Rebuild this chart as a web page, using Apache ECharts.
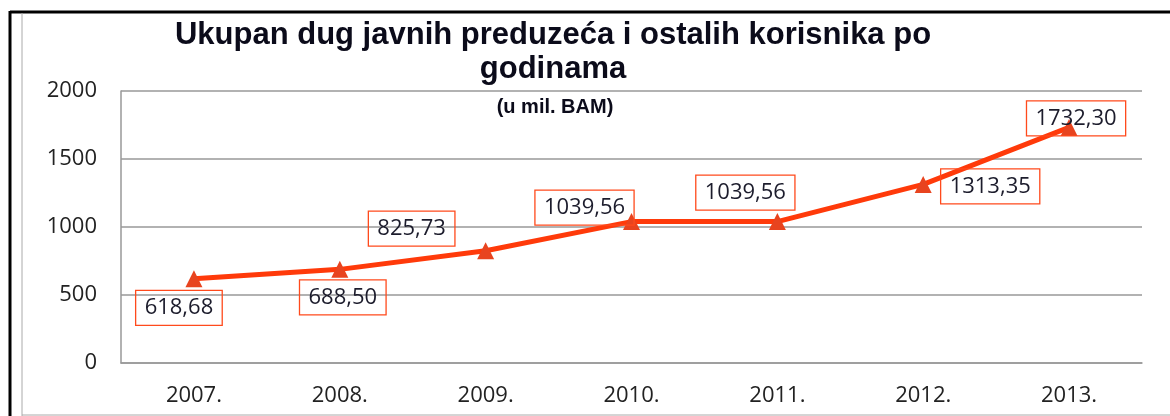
<!DOCTYPE html>
<html>
<head>
<meta charset="utf-8">
<script src="https://cdn.jsdelivr.net/npm/echarts@6/dist/echarts.min.js"></script>
<style>
  html, body { margin: 0; padding: 0; background: #fff; }
  #chart { width: 1170px; height: 416px; }
</style>
</head>
<body>
<div id="chart"></div>
<script>
// podaci sa grafika
var godine = ['2007.', '2008.', '2009.', '2010.', '2011.', '2012.', '2013.']
var dug = [618.68, 688.50, 825.73, 1039.56, 1039.56, 1313.35, 1732.30]
var yTicks = [0, 500, 1000, 1500, 2000]
// pomak natpisa od tacke [dx, dy]
var labelOffsets = [[-15, 29], [3, 28], [-74, -22], [-47, -14], [-32, -29], [67, 2], [7, -9]]

var myChart = echarts.init(document.getElementById('chart'))

var seriesData = dug.map(function (v, i) {
  return {
    value: v,
    label: { offset: labelOffsets[i] }
  }
})

var option = {
  animation: false,
  backgroundColor: '#fff',
  title: [
    {
      text: 'Ukupan dug javnih preduzeća i ostalih korisnika po\ngodinama',
      left: 548,
      top: 13,
      textAlign: 'center',
      textStyle: {
        fontFamily: 'Liberation Sans',
        fontSize: 31,
        fontWeight: 'bold',
        color: '#0b0b1a',
        lineHeight: 34
      }
    },
    {
      text: '(u mil. BAM)',
      left: 550,
      top: 92,
      textAlign: 'center',
      textStyle: {
        fontFamily: 'Liberation Sans',
        fontSize: 20,
        fontWeight: 'bold',
        color: '#0b0b1a'
      }
    }
  ],
  grid: {
    left: 121,
    right: 28,
    top: 91,
    bottom: 53
  },
  xAxis: {
    type: 'category',
    data: godine,
    boundaryGap: true,
    axisTick: { show: false },
    axisLine: { lineStyle: { color: '#999', width: 1.5 } },
    axisLabel: {
      margin: 22,
      fontFamily: 'Open Sans',
      fontSize: 22,
      color: '#222'
    }
  },
  yAxis: {
    type: 'value',
    min: yTicks[0],
    max: yTicks[yTicks.length - 1],
    interval: 500,
    axisTick: { show: false },
    axisLine: { show: true, lineStyle: { color: '#999', width: 1.5 } },
    splitLine: { lineStyle: { color: '#999', width: 1.5 } },
    axisLabel: {
      margin: 24,
      fontFamily: 'Open Sans',
      fontSize: 22,
      color: '#222',
      formatter: function (v) { return String(v) }
    }
  },
  series: [
    {
      type: 'line',
      data: seriesData,
      symbol: 'triangle',
      symbolSize: 17,
      lineStyle: { color: '#ff3a0a', width: 5 },
      itemStyle: { color: '#e8441f' },
      label: {
        show: true,
        position: 'inside',
        fontFamily: 'Open Sans',
        fontSize: 22,
        color: '#1c1c2c',
        borderColor: '#ff4a1c',
        borderWidth: 1.3,
        padding: [7, 9, 6, 9],
        formatter: function (p) {
          return p.value.toFixed(2).replace('.', ',')
        }
      }
    }
  ],
  graphic: [
    // okvir slike
    { type: 'line', shape: { x1: 10, y1: 12, x2: 1170, y2: 12 }, style: { stroke: '#000', lineWidth: 3 } },
    { type: 'line', shape: { x1: 10, y1: 11, x2: 10, y2: 416 }, style: { stroke: '#000', lineWidth: 3 } },
    { type: 'line', shape: { x1: 22, y1: 13, x2: 22, y2: 416 }, style: { stroke: '#aaa', lineWidth: 1 } },
    { type: 'line', shape: { x1: 22, y1: 415, x2: 1170, y2: 415 }, style: { stroke: '#aaa', lineWidth: 1 } }
  ]
}

myChart.setOption(option)
</script>
</body>
</html>
